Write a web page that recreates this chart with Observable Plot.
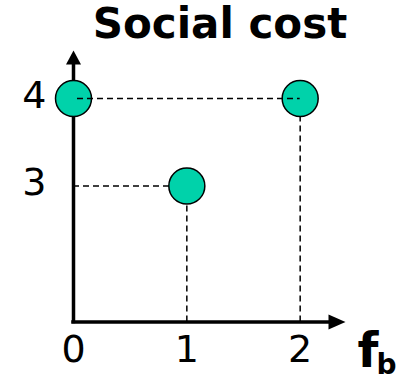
<!DOCTYPE html>
<html>
<head>
<meta charset="utf-8">
<script src="https://cdn.jsdelivr.net/npm/d3@7"></script>
<script src="https://cdn.jsdelivr.net/npm/@observablehq/plot@0.6"></script>
<style>
  html, body { margin: 0; padding: 0; background: #fff; }
</style>
</head>
<body>
<div id="chart"></div>
<script>
// Data
const pointX = [0, 1, 2];
const pointY = [4, 3, 4];
const xTicks = [0, 1, 2];
const yTicks = [3, 4];
const titleText = "Social cost";
const xLabelMain = "f";
const xLabelSub = "b";
// axis extents (data units)
const xMin = 0, xMax = 2.4;
const yMin = 1.446, yMax = 4.549;

const points = pointX.map((x, i) => ({x, y: pointY[i]}));

const upTri = {draw(ctx) { ctx.moveTo(0, 0); ctx.lineTo(-7.5, 14); ctx.lineTo(7.5, 14); ctx.closePath(); }};
const rightTri = {draw(ctx) { ctx.moveTo(0, 0); ctx.lineTo(-17, -7.5); ctx.lineTo(-17, 7.5); ctx.closePath(); }};

const dash = "6,4";
const font = "DejaVu Sans, Verdana, sans-serif";

const chart = Plot.plot({
  width: 400,
  height: 381,
  marginLeft: 73,
  marginRight: 55,
  marginTop: 50,
  marginBottom: 59.5,
  x: {domain: [xMin, xMax]},
  y: {domain: [yMin, yMax]},
  style: {fontFamily: font, color: "black", background: "white", overflow: "visible"},
  marks: [
    // dashed guides under circles
    Plot.ruleX(points.filter(d => d.x > 0), {x: "x", y1: yMin, y2: "y", stroke: "black", strokeWidth: 1.5, strokeDasharray: dash}),
    Plot.ruleY(points.filter(d => d.y === 3), {y: "y", x1: xMin, x2: "x", stroke: "black", strokeWidth: 1.5, strokeDasharray: dash}),
    // axes lines
    Plot.ruleX([xMin], {y1: yMin, y2: yMax - 0.1, stroke: "black", strokeWidth: 3.5, strokeLinecap: "square"}),
    Plot.ruleY([yMin], {x1: xMin, x2: xMax - 0.1, stroke: "black", strokeWidth: 3.5, strokeLinecap: "square"}),
    Plot.dot([{x: xMin, y: yMax}], {x: "x", y: "y", symbol: upTri, r: 1, fill: "black", stroke: null}),
    Plot.dot([{x: xMax, y: yMin}], {x: "x", y: "y", symbol: rightTri, r: 1, fill: "black", stroke: null}),
    // circles
    Plot.dot(points, {x: "x", y: "y", r: 18, fill: "#00D2AA", stroke: "black", strokeWidth: 1.5}),
    // top dashed line drawn over circles
    Plot.ruleY([4], {x1: pointX[0], x2: pointX[2], stroke: "black", strokeWidth: 1.5, strokeDasharray: dash, strokeDashoffset: -4}),
    // tick labels
    Plot.axisX({ticks: xTicks, tickSize: 0, tickPadding: 13, fontSize: 38, label: null, tickFormat: d => String(d)}),
    Plot.axisY({ticks: yTicks, tickSize: 0, tickPadding: 27, fontSize: 38, label: null, dy: -3, tickFormat: d => String(d)}),
    // title
    Plot.text([titleText], {frameAnchor: "top", text: d => d, dx: 10.5, dy: -13, lineAnchor: "bottom", fontSize: 42, fontWeight: "bold", fill: "black"}),
    // x label f_b
    Plot.text([xLabelMain], {frameAnchor: "bottom-right", text: d => d, textAnchor: "start", dx: 12, dy: 45, lineAnchor: "bottom", fontSize: 48, fontWeight: "bold", fill: "black"}),
    Plot.text([xLabelSub], {frameAnchor: "bottom-right", text: d => d, textAnchor: "start", dx: 31, dy: 52, lineAnchor: "bottom", fontSize: 28, fontWeight: "bold", fill: "black"})
  ]
});
document.getElementById("chart").appendChild(chart);
</script>
</body>
</html>
